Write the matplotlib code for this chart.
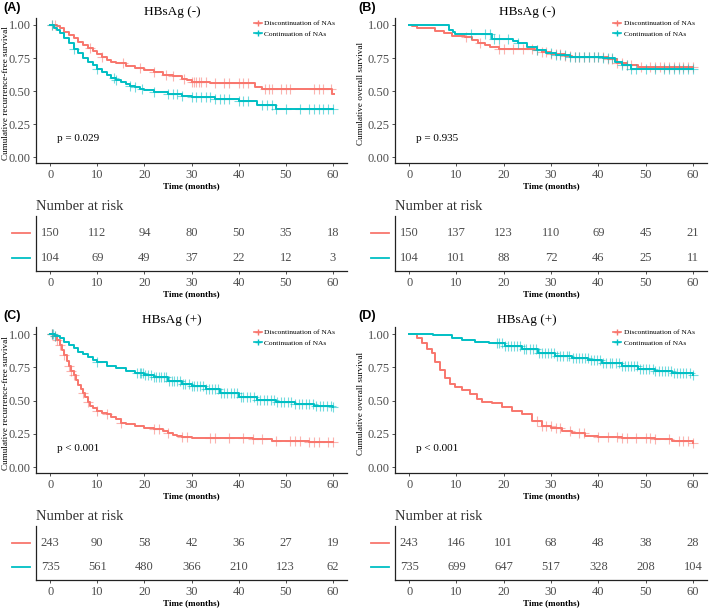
import numpy as np
import matplotlib
matplotlib.use("Agg")
import matplotlib.pyplot as plt
import matplotlib.transforms as mtransforms
from matplotlib.lines import Line2D

RED = "#F8766D"
CYAN = "#00BFC4"
GREY = "#4D4D4D"
SERIF = "Liberation Serif"

labels = ["Discontinuation of NAs", "Continuation of NAs"]
risk_times = [0, 10, 20, 30, 40, 50, 60]

# ---- panel A : HBsAg (-), recurrence-free survival
a_red_t = [0, 1.5, 2, 3, 4, 5, 6, 7, 8, 9, 10, 11, 12, 13, 14, 16, 18, 20, 22, 24, 26, 28, 29, 30, 34, 43.5, 45, 59.9, 60.2]
a_red_s = [1.0, 0.99, 0.975, 0.95, 0.925, 0.90, 0.875, 0.85, 0.825, 0.80, 0.78, 0.755, 0.735, 0.72, 0.71, 0.69, 0.677, 0.66, 0.642, 0.622, 0.614, 0.59, 0.58, 0.571, 0.56, 0.53, 0.513, 0.48, 0.48]
a_red_c = [0.3, 1, 8.5, 11, 15.5, 19, 22, 24.5, 26, 28.5, 30, 30.5, 31, 31.5, 32, 33, 35, 37, 38, 40, 41, 42,
           45.5, 46.5, 47, 49, 50, 51, 56, 57, 58, 59.5]
a_cyan_t = [0, 0.8, 1.5, 2, 3, 4, 5, 6, 7, 8, 9, 10, 11, 12, 13, 14, 15, 16, 17, 18, 19, 20, 22, 25, 28, 30, 35, 40, 44, 48, 60]
a_cyan_s = [1.0, 0.98, 0.96, 0.937, 0.90, 0.86, 0.82, 0.785, 0.75, 0.72, 0.695, 0.67, 0.645, 0.62, 0.60, 0.583, 0.568, 0.553, 0.54, 0.527, 0.515, 0.507, 0.495, 0.477, 0.465, 0.457, 0.437, 0.427, 0.397, 0.366, 0.366]
a_cyan_c = [0.5, 5, 10, 13.5, 14, 17, 18, 19.5, 22, 25, 26, 27, 28, 30, 31, 32, 33, 34, 35, 36, 37, 38, 40,
            41, 42, 45, 46, 47, 48, 50, 53, 55, 56, 57, 58, 59, 60]
a_risk_red = [150, 112, 94, 80, 50, 35, 18]
a_risk_cyan = [104, 69, 49, 37, 22, 12, 3]

# ---- panel B : HBsAg (-), overall survival
b_red_t = [0, 0.6, 1.6, 5.5, 7.3, 9, 11.8, 13.2, 14.6, 16, 17, 19, 26.6, 28, 30, 33, 34.4, 42, 44, 46, 48.5, 60]
b_red_s = [1.0, 0.992, 0.975, 0.957, 0.942, 0.917, 0.907, 0.886, 0.866, 0.848, 0.831, 0.816, 0.81, 0.793, 0.78, 0.765, 0.755, 0.74, 0.71, 0.697, 0.685, 0.685]
b_red_c = [12, 15, 19, 20, 22, 24, 26, 27, 28, 29, 30, 31, 32, 33, 34, 35, 36, 37, 38, 39, 40, 41, 42, 43,
           44, 45, 46, 47, 49, 51, 52, 53, 54, 55, 56, 57, 58, 59, 60]
b_cyan_t = [0, 8.5, 9.2, 9.7, 17.5, 22, 23, 25, 27, 29, 31, 34, 41, 43.5, 45, 47, 60]
b_cyan_s = [1.0, 0.962, 0.945, 0.929, 0.891, 0.881, 0.861, 0.836, 0.811, 0.79, 0.773, 0.76, 0.747, 0.722, 0.697, 0.667, 0.667]
b_cyan_c = [13, 16, 17, 18, 19, 21, 23, 27, 30, 31, 32, 33, 34, 35, 36, 37, 38, 39, 40, 41, 42, 43, 45,
            46, 47, 48, 50, 52, 54, 55, 56, 57, 58, 59, 60]
b_risk_red = [150, 137, 123, 110, 69, 45, 21]
b_risk_cyan = [104, 101, 88, 72, 46, 25, 11]

# ---- panel C : HBsAg (+), recurrence-free survival
c_red_t = [0, 0.8, 1.5, 2, 2.5, 3, 3.5, 4, 4.5, 5, 5.5, 6, 6.5, 7, 7.5, 8, 8.5, 9, 10, 11, 12, 13, 14, 15, 16,
           18, 20, 22, 24, 25, 26, 27, 28, 30, 40, 43, 47, 55, 60]
c_red_s = [1.0, 0.985, 0.955, 0.917, 0.88, 0.842, 0.80, 0.76, 0.724, 0.692, 0.654, 0.617, 0.584, 0.554, 0.529,
           0.491, 0.459, 0.441, 0.421, 0.409, 0.396, 0.378, 0.358, 0.333, 0.323, 0.308, 0.296, 0.283, 0.273,
           0.258, 0.243, 0.233, 0.223, 0.22, 0.215, 0.208, 0.198, 0.19, 0.19]
c_red_c = [0.3, 0.5, 1, 1.5, 2, 3, 4, 4.5, 5, 7, 8, 10, 12, 15, 22, 23, 25, 28, 29, 34, 35, 38, 41, 43, 45,
           48, 51, 52, 53, 55, 56, 57, 59, 60]
c_cyan_t = [0, 1, 2, 3, 4, 5, 6, 7, 8, 9, 10, 12, 14, 16, 18, 20, 22, 25, 28, 30, 33, 36, 40, 44, 48, 52, 56, 60]
c_cyan_s = [1.0, 0.985, 0.968, 0.943, 0.917, 0.892, 0.867, 0.847, 0.825, 0.805, 0.787, 0.762, 0.742, 0.724,
            0.709, 0.692, 0.674, 0.649, 0.624, 0.609, 0.584, 0.559, 0.529, 0.504, 0.486, 0.474, 0.461, 0.449]
c_cyan_c = [0.3, 0.6, 1, 10, 18.5, 19, 19.3, 19.7, 20.2, 20.8, 21.5, 22, 22.4, 23, 23.5, 24.1, 24.6, 25.2, 25.8,
            26.3, 27, 27.6, 28.1, 28.7, 29.4, 30, 30.6, 31.2, 31.9, 32.5, 33.1, 33.8, 34.4, 35, 35.7, 36.3,
            37, 37.6, 38.3, 39, 39.7, 40.4, 41, 41.8, 42.5, 43.2, 44, 44.6, 45.3, 46, 46.8, 47.5, 48.2, 49,
            49.7, 50.5, 51.2, 52, 52.8, 53.5, 54.3, 55, 55.8, 56.5, 57.3, 58, 58.8, 59.5, 60]
c_risk_red = [243, 90, 58, 42, 36, 27, 19]
c_risk_cyan = [735, 561, 480, 366, 210, 123, 62]

# ---- panel D : HBsAg (+), overall survival
d_red_t = [0, 1.6, 2.7, 3.7, 4.8, 5.5, 6.5, 7.6, 8.7, 9.7, 11.1, 12.9, 14.3, 15.4, 17.5, 19.6, 21.7, 23.8,
           25.9, 28, 30.1, 32.3, 34.4, 37.2, 40, 45, 52, 55.5, 60]
d_red_s = [1.0, 0.967, 0.93, 0.891, 0.854, 0.79, 0.727, 0.672, 0.621, 0.601, 0.581, 0.55, 0.513, 0.492, 0.48,
           0.455, 0.424, 0.399, 0.348, 0.311, 0.293, 0.273, 0.253, 0.235, 0.222, 0.217, 0.21, 0.197, 0.184]
d_red_c = [27, 28, 29, 30, 31, 32, 34, 36, 37, 40, 42, 44, 45, 46, 48, 50, 51, 52, 55, 57, 58, 59, 60]
d_cyan_t = [0, 5.1, 6.9, 9, 11.1, 14, 16.8, 20.3, 23.8, 27.3, 30.8, 34.4, 37.9, 40.7, 45, 48.5, 52, 55.5, 60]
d_cyan_s = [1.0, 0.995, 0.99, 0.967, 0.955, 0.942, 0.93, 0.909, 0.884, 0.854, 0.833, 0.823, 0.808, 0.783,
            0.758, 0.74, 0.722, 0.707, 0.69]
d_cyan_c = [18.5, 19, 19.6, 20.3, 21, 21.6, 22.2, 22.9, 23.5, 24.2, 24.8, 25.5, 26.1, 26.8, 27.4, 28.1, 28.7,
            29.4, 30, 30.7, 31.3, 32, 32.6, 33.3, 33.9, 34.6, 35.2, 35.9, 36.5, 37.2, 37.8, 38.5, 39.1, 39.8,
            40.4, 41.1, 41.7, 42.4, 43, 43.7, 44.3, 45, 45.6, 46.3, 46.9, 47.6, 48.2, 48.9, 49.5, 50.2, 50.8,
            51.5, 52.1, 52.8, 53.4, 54.1, 54.7, 55.4, 56, 56.7, 57.3, 58, 58.6, 59.3, 60]
d_risk_red = [243, 146, 101, 68, 48, 38, 28]
d_risk_cyan = [735, 699, 647, 517, 328, 208, 104]

W, H = 709, 608
fig = plt.figure(figsize=(W / 100, H / 100), dpi=100)


def px_axes(l, t, r, b):
    return fig.add_axes([l / W, 1 - b / H, (r - l) / W, (b - t) / H])


def style(ax):
    for sp in ["top", "right"]:
        ax.spines[sp].set_visible(False)
    for sp in ["left", "bottom"]:
        ax.spines[sp].set_color("#222222")
        ax.spines[sp].set_linewidth(0.9)
    ax.set_xlim(-3, 63)
    ax.set_xticks(risk_times)
    ax.tick_params(length=2.5, width=0.6, color="#333333", labelcolor=GREY, labelsize=9, pad=1.5)
    for lab in ax.get_xticklabels() + ax.get_yticklabels():
        lab.set_family(SERIF)


def km(ax, t, s, cens, color):
    ax.step(t, s, where="post", color=color, lw=1.4)
    t = np.array(t)
    s = np.array(s)
    idx = np.searchsorted(t, cens, side="right") - 1
    ax.plot(cens, s[idx], ls="none", marker="+", ms=6.5, mew=0.8, color=color, alpha=0.55)


panels = [
    ("(A)", "HBsAg (-)", "Cumulative recurrence-free survival", "p = 0.029",
     (a_red_t, a_red_s, a_red_c), (a_cyan_t, a_cyan_s, a_cyan_c), a_risk_red, a_risk_cyan),
    ("(B)", "HBsAg (-)", "Cumulative overall survival", "p = 0.935",
     (b_red_t, b_red_s, b_red_c), (b_cyan_t, b_cyan_s, b_cyan_c), b_risk_red, b_risk_cyan),
    ("(C)", "HBsAg (+)", "Cumulative recurrence-free survival", "p < 0.001",
     (c_red_t, c_red_s, c_red_c), (c_cyan_t, c_cyan_s, c_cyan_c), c_risk_red, c_risk_cyan),
    ("(D)", "HBsAg (+)", "Cumulative overall survival", "p < 0.001",
     (d_red_t, d_red_s, d_red_c), (d_cyan_t, d_cyan_s, d_cyan_c), d_risk_red, d_risk_cyan),
]

cols = [(36, 347, 0), (395, 707, 355)]
rows = [(18, 163, 216, 271, 0), (327, 473, 526, 580, 308)]

for i, (tag, title, ylab, pval, red, cyan, rr, rc) in enumerate(panels):
    l, r, x0 = cols[i % 2]
    t0, b0, t1, b1, y0 = rows[i // 2]

    ax = px_axes(l, t0, r, b0)
    km(ax, *red, RED)
    km(ax, *cyan, CYAN)
    style(ax)
    ax.set_ylim(-0.045, 1.053)
    ax.set_yticks([0, 0.25, 0.5, 0.75, 1.0])
    ax.set_yticklabels(["0.00", "0.25", "0.50", "0.75", "1.00"], family=SERIF)
    ax.set_xlabel("Time (months)", family=SERIF, fontweight="bold", fontsize=6.5, labelpad=1)
    ax.text(1.5, 0.14, pval, family=SERIF, fontsize=8, va="center")
    handles = [Line2D([], [], color=RED, marker="+", ms=4, lw=1.2),
               Line2D([], [], color=CYAN, marker="+", ms=4, lw=1.2)]
    ax.legend(handles, labels, loc="upper left", bbox_to_anchor=(0.70, 0.985), frameon=False,
              prop={"family": SERIF, "size": 5.3}, handlelength=1.1, handletextpad=0.3,
              labelspacing=0.55, borderpad=0, borderaxespad=0)

    fig.text((x0 + 172) / W, 1 - (y0 + 12.5) / H, title, family=SERIF, fontsize=9.5, ha="center", va="center")
    fig.text((x0 + 3) / W, 1 - (y0 + 8) / H, tag, family="Liberation Sans", fontweight="bold",
             fontsize=9, va="center")
    fig.text((x0 + 6) / W, 1 - ((t0 + b0) / 2 + 3) / H, ylab, family=SERIF, fontsize=6.6,
             rotation=90, ha="center", va="center")

    # risk table
    rt = px_axes(l, t1, r, b1)
    style(rt)
    rt.set_ylim(-0.52, 1.68)
    rt.set_yticks([])
    rt.set_xlabel("Time (months)", family=SERIF, fontweight="bold", fontsize=6.5, labelpad=1)
    for tt, n1, n2 in zip(risk_times, rr, rc):
        rt.text(tt, 1, str(n1), ha="center", va="center", family=SERIF, fontsize=9, color=GREY)
        rt.text(tt, 0, str(n2), ha="center", va="center", family=SERIF, fontsize=9, color=GREY)
    tr = mtransforms.blended_transform_factory(rt.transAxes, rt.transData)
    rt.plot([-0.077, -0.019], [1, 1], color=RED, lw=1.3, transform=tr, clip_on=False)
    rt.plot([-0.077, -0.019], [0, 0], color=CYAN, lw=1.3, transform=tr, clip_on=False)
    fig.text(l / W, 1 - (t1 - 9) / H, "Number at risk", family=SERIF, fontsize=10.5, color="#333333",
             va="center")

fig.savefig("out.png", dpi=100)
